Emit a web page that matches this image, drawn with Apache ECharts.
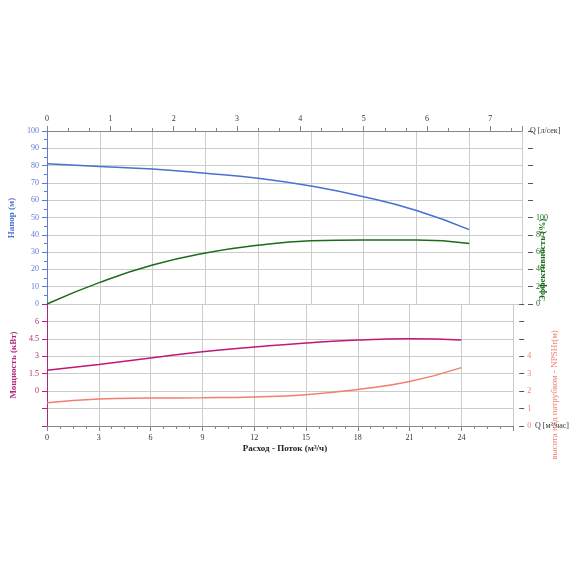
<!DOCTYPE html><html><head><meta charset="utf-8"><script src="https://cdn.jsdelivr.net/npm/echarts@6/dist/echarts.min.js"></script></head><body style="margin:0"><div id="c" style="width:570px;height:570px"></div><script>
const flow=[0,3,6,9,12,15,18,21,24];
const head=[81,79.5,78,75.6,72.7,68.2,62,54,43];
const eff=[0,25,45,59,68,73,74,74,70];
const power=[1.8,2.3,2.85,3.4,3.8,4.15,4.4,4.5,4.4];
const npsh=[1.33,1.55,1.6,1.62,1.67,1.8,2.1,2.55,3.35];
const F='Liberation Serif';
const pair=a=>flow.map((x,i)=>[x,a[i]]);
const gl={show:true,lineStyle:{color:'#ccc'}};
const ch=echarts.init(document.getElementById('c'));
ch.setOption({animation:false,
grid:[{left:47,right:48,top:131,height:173},{left:47,right:48,top:304,height:122}],
xAxis:[
{gridIndex:0,type:'value',position:'top',min:0,max:7.5,interval:1,splitLine:{show:false},axisLine:{onZero:false,lineStyle:{color:'#888'}},axisTick:{show:true},minorTick:{show:true,splitNumber:3},axisLabel:{fontFamily:F,fontSize:8,color:'#333',formatter:v=>v>7?'':v},name:'Q [л/сек]',nameGap:8,nameTextStyle:{fontFamily:F,fontSize:8,color:'#333'}},
{gridIndex:0,type:'value',min:0,max:27,interval:3,axisLine:{show:false,onZero:false},axisTick:{show:false},axisLabel:{show:false},splitLine:gl},
{gridIndex:1,type:'value',position:'bottom',min:0,max:27,interval:3,splitLine:gl,axisLine:{onZero:false,lineStyle:{color:'#888'}},axisTick:{show:true},minorTick:{show:true,splitNumber:4},axisLabel:{fontFamily:F,fontSize:8,color:'#333',formatter:v=>v>24?'':v},name:'Q [м³/час]',nameGap:4,nameTextStyle:{fontFamily:F,fontSize:8,color:'#333',padding:[14,0,0,0]}}],
yAxis:[
{gridIndex:0,min:0,max:100,interval:10,splitLine:gl,axisLine:{show:true,onZero:false,lineStyle:{color:'#5b7bd5'}},axisTick:{show:true},minorTick:{show:true,splitNumber:2},axisLabel:{fontFamily:F,fontSize:8,color:'#5b7bd5'}},
{gridIndex:0,position:'right',offset:6,min:0,max:200,interval:20,splitLine:{show:false},axisLine:{show:false,onZero:false},axisLabel:{fontFamily:F,fontSize:8,color:'#1a6b1a',formatter:v=>v>100?'':v}},
{gridIndex:1,min:-3,max:7.5,interval:1.5,splitLine:gl,axisLine:{show:true,onZero:false,lineStyle:{color:'#b0287a'}},axisTick:{show:true},axisLabel:{fontFamily:F,fontSize:8,color:'#b0287a',formatter:v=>(v<0||v>6)?'':v}},
{gridIndex:1,position:'right',offset:6,min:0,max:7,interval:1,splitLine:{show:false},axisLine:{show:false,onZero:false},axisLabel:{fontFamily:F,fontSize:8,color:'#f08070',formatter:v=>v>4?'':v}}],
series:[
{type:'line',xAxisIndex:1,yAxisIndex:0,data:pair(head),smooth:true,symbol:'none',lineStyle:{color:'#4a6fd0',width:1.5}},
{type:'line',xAxisIndex:1,yAxisIndex:1,data:pair(eff),smooth:true,symbol:'none',lineStyle:{color:'#1a6b1a',width:1.5}},
{type:'line',xAxisIndex:2,yAxisIndex:2,data:pair(power),smooth:true,symbol:'none',lineStyle:{color:'#c0187a',width:1.5}},
{type:'line',xAxisIndex:2,yAxisIndex:3,data:pair(npsh),smooth:true,symbol:'none',lineStyle:{color:'#f08070',width:1.5}}],
graphic:[
{type:'text',x:12,y:218,rotation:Math.PI/2,style:{text:'Напор (м)',font:'bold 9px '+F,fill:'#4a6fd0',align:'center',verticalAlign:'middle'}},
{type:'text',x:14,y:365,rotation:Math.PI/2,style:{text:'Мощность (кВт)',font:'bold 9px '+F,fill:'#b0287a',align:'center',verticalAlign:'middle'}},
{type:'text',x:543,y:260,rotation:Math.PI/2,style:{text:'Эффективность (%)',font:'bold 9px '+F,fill:'#1a6b1a',align:'center',verticalAlign:'middle'}},
{type:'text',x:555,y:395,rotation:Math.PI/2,style:{text:'высота над патрубком - NPSHr(м)',font:'9px '+F,fill:'#f08070',align:'center',verticalAlign:'middle'}},
{type:'text',x:285,y:449,style:{text:'Расход - Поток (м³/ч)',font:'bold 9px '+F,fill:'#222',align:'center',verticalAlign:'middle'}}]
});
</script></body></html>
